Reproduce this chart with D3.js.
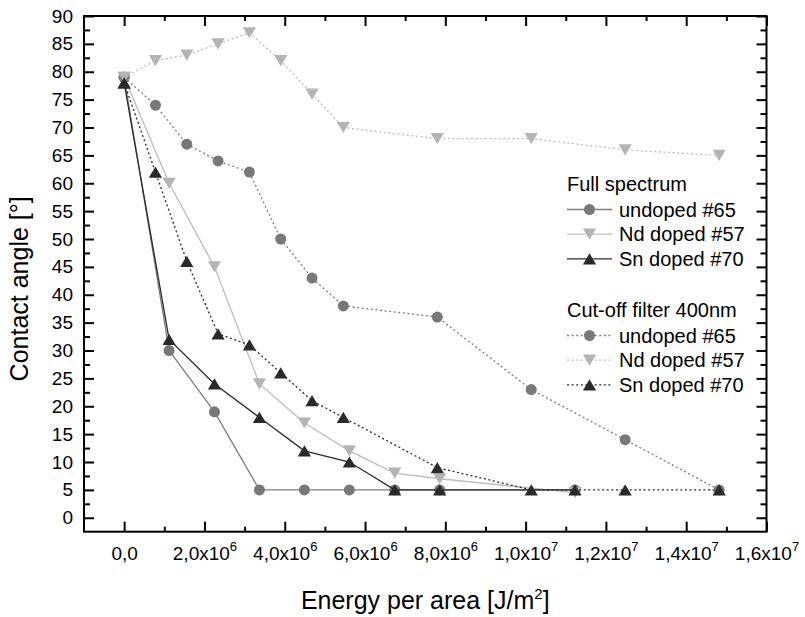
<!DOCTYPE html>
<html>
<head>
<meta charset="utf-8">
<script src="https://cdn.jsdelivr.net/npm/d3@7"></script>
<style>
  body { margin: 0; background: #fff; }
  svg { font-family: "Liberation Sans", Arial, sans-serif; }
</style>
</head>
<body>
<svg id="chart" width="805" height="617"></svg>
<script>
// energy per area values (J/m^2)
const xFull = [0, 1.12e6, 2.25e6, 3.37e6, 4.49e6, 5.61e6, 6.74e6, 7.86e6, 11.23e6];
const xCut = [0, 0.78e6, 1.56e6, 2.34e6, 3.12e6, 3.9e6, 4.68e6, 5.46e6, 7.8e6, 10.14e6, 12.48e6, 14.82e6];

// contact angles (degrees)
const fullUndoped = [79, 30, 19, 5, 5, 5, 5, 5, 5];
const fullNd = [79, 60, 45, 24, 17, 12, 8, 7, 4.5];
const fullSn = [78, 32, 24, 18, 12, 10, 5, 5, 5];
const cutUndoped = [79, 74, 67, 64, 62, 50, 43, 38, 36, 23, 14, 5];
const cutNd = [79, 82, 83, 85, 87, 82, 76, 70, 68, 68, 66, 65];
const cutSn = [78, 62, 46, 33, 31, 26, 21, 18, 9, 5, 5, 5];

const seriesNames = ['undoped #65', 'Nd doped #57', 'Sn doped #70'];
const groupTitles = ['Full spectrum', 'Cut-off filter 400nm'];

const xTickValues = [0, 2e6, 4e6, 6e6, 8e6, 1e7, 1.2e7, 1.4e7, 1.6e7];
const xTickLabels = ['0,0', '2,0x10^6', '4,0x10^6', '6,0x10^6', '8,0x10^6', '1,0x10^7', '1,2x10^7', '1,4x10^7', '1,6x10^7'];
const xMinorTicks = [1e6, 3e6, 5e6, 7e6, 9e6, 1.1e7, 1.3e7, 1.5e7];
const yTickValues = d3.range(0, 91, 5);
const yMinorTicks = d3.range(2.5, 90, 5);

// look of each series: fill of marker, colour of line, marker shape
const styles = [
  { fill: '#787878', line: '#7e7e7e', shape: 'circle' },
  { fill: '#b4b4b4', line: '#bdbdbd', shape: 'down' },
  { fill: '#2a2a2a', line: '#2a2a2a', shape: 'up' }
];

const svg = d3.select('#chart');
const plotLeft = 84, plotRight = 766.5, plotTop = 16, plotBottom = 531.7;

const x = d3.scaleLinear().domain([-1e6, 1.6e7]).range([plotLeft, plotRight]);
const y = d3.scaleLinear().domain([-2.5, 90]).range([plotBottom, plotTop]);

function markerPath(shape) {
  if (shape === 'circle') return d3.symbol(d3.symbolCircle, Math.PI * 5.5 * 5.5)();
  const h = 5.6, w = 6.6;
  return shape === 'up'
    ? `M0,${-h}L${w},${h}L${-w},${h}Z`
    : `M0,${h}L${w},${-h}L${-w},${-h}Z`;
}

// axes: ticks point inward, d3's own font settings removed
function styleAxis(g) {
  g.attr('font-family', null).attr('font-size', 19);
  g.select('.domain').remove();
  g.selectAll('line').attr('stroke', '#000').attr('stroke-width', 2);
  g.selectAll('text').attr('fill', '#000');
}

const xAxisG = svg.append('g')
  .attr('transform', `translate(0,${plotBottom})`)
  .call(d3.axisBottom(x).tickValues(xTickValues).tickSizeInner(-10).tickSizeOuter(0).tickPadding(15).tickFormat(() => ''))
  .call(styleAxis);
xAxisG.selectAll('.tick text')
  .each(function(d, i) {
    const parts = xTickLabels[i].split('^');
    const t = d3.select(this);
    t.append('tspan').text(parts[0]);
    if (parts[1]) t.append('tspan').attr('font-size', 13).attr('dy', '-0.7em').text(parts[1]);
  });
svg.append('g')
  .attr('transform', `translate(0,${plotBottom})`)
  .call(d3.axisBottom(x).tickValues(xMinorTicks).tickSizeInner(-5).tickSizeOuter(0).tickFormat(''))
  .call(styleAxis);

svg.append('g')
  .attr('transform', `translate(0,${plotTop})`)
  .call(d3.axisTop(x).tickValues(xTickValues).tickSizeInner(-10).tickSizeOuter(0).tickFormat(''))
  .call(styleAxis);
svg.append('g')
  .attr('transform', `translate(0,${plotTop})`)
  .call(d3.axisTop(x).tickValues(xMinorTicks).tickSizeInner(-5).tickSizeOuter(0).tickFormat(''))
  .call(styleAxis);

svg.append('g')
  .attr('transform', `translate(${plotLeft},0)`)
  .call(d3.axisLeft(y).tickValues(yTickValues).tickSizeInner(-10).tickSizeOuter(0).tickPadding(11).tickFormat(d3.format('d')))
  .call(styleAxis);
svg.append('g')
  .attr('transform', `translate(${plotLeft},0)`)
  .call(d3.axisLeft(y).tickValues(yMinorTicks).tickSizeInner(-6).tickSizeOuter(0).tickFormat(''))
  .call(styleAxis);

svg.append('g')
  .attr('transform', `translate(${plotRight},0)`)
  .call(d3.axisRight(y).tickValues(yTickValues).tickSizeInner(-10).tickSizeOuter(0).tickFormat(''))
  .call(styleAxis);
svg.append('g')
  .attr('transform', `translate(${plotRight},0)`)
  .call(d3.axisRight(y).tickValues(yMinorTicks).tickSizeInner(-6).tickSizeOuter(0).tickFormat(''))
  .call(styleAxis);

// frame
svg.append('rect')
  .attr('x', plotLeft).attr('y', plotTop)
  .attr('width', plotRight - plotLeft).attr('height', plotBottom - plotTop)
  .attr('fill', 'none').attr('stroke', '#000').attr('stroke-width', 2);

// axis titles
svg.append('text')
  .attr('transform', `translate(28,${(plotTop + plotBottom) / 2 + 15}) rotate(-90)`)
  .attr('text-anchor', 'middle')
  .attr('font-size', 25)
  .text('Contact angle [°]');

const xTitle = svg.append('text')
  .attr('x', (plotLeft + plotRight) / 2).attr('y', 609)
  .attr('text-anchor', 'middle')
  .attr('font-size', 25);
xTitle.append('tspan').text('Energy per area [J/m');
xTitle.append('tspan').attr('font-size', 15).attr('dy', -10).text('2');
xTitle.append('tspan').attr('dy', 10).text(']');

// series
const groups = [
  { xs: xFull, ys: [fullUndoped, fullNd, fullSn], dash: null },
  { xs: xCut, ys: [cutUndoped, cutNd, cutSn], dash: '2,2.6' }
];

const line = d3.line().x(d => x(d[0])).y(d => y(d[1]));
const plot = svg.append('g');

groups.forEach(grp => {
  grp.ys.forEach((vals, i) => {
    const pts = grp.xs.map((xv, j) => [xv, vals[j]]);
    plot.append('path')
      .datum(pts)
      .attr('fill', 'none')
      .attr('stroke', styles[i].line)
      .attr('stroke-width', 1.3)
      .attr('stroke-dasharray', grp.dash)
      .attr('d', line);
    plot.selectAll(null)
      .data(pts)
      .join('path')
      .attr('transform', d => `translate(${x(d[0])},${y(d[1])})`)
      .attr('d', markerPath(styles[i].shape))
      .attr('fill', styles[i].fill);
  });
});

// legends
const legendX = 567;
const legendTops = [190.5, 316.5];
groups.forEach((grp, gi) => {
  const lg = svg.append('g').attr('font-size', 20);
  lg.append('text').attr('x', legendX).attr('y', legendTops[gi]).text(groupTitles[gi]);
  seriesNames.forEach((name, i) => {
    const ry = legendTops[gi] + 19 + i * 24.7;
    lg.append('line')
      .attr('x1', legendX).attr('x2', legendX + 45)
      .attr('y1', ry).attr('y2', ry)
      .attr('stroke', styles[i].line).attr('stroke-width', 1.3)
      .attr('stroke-dasharray', grp.dash);
    lg.append('path')
      .attr('transform', `translate(${legendX + 22.5},${ry})`)
      .attr('d', markerPath(styles[i].shape))
      .attr('fill', styles[i].fill);
    lg.append('text').attr('x', legendX + 52).attr('y', ry + 7).text(name);
  });
});
</script>
</body>
</html>
